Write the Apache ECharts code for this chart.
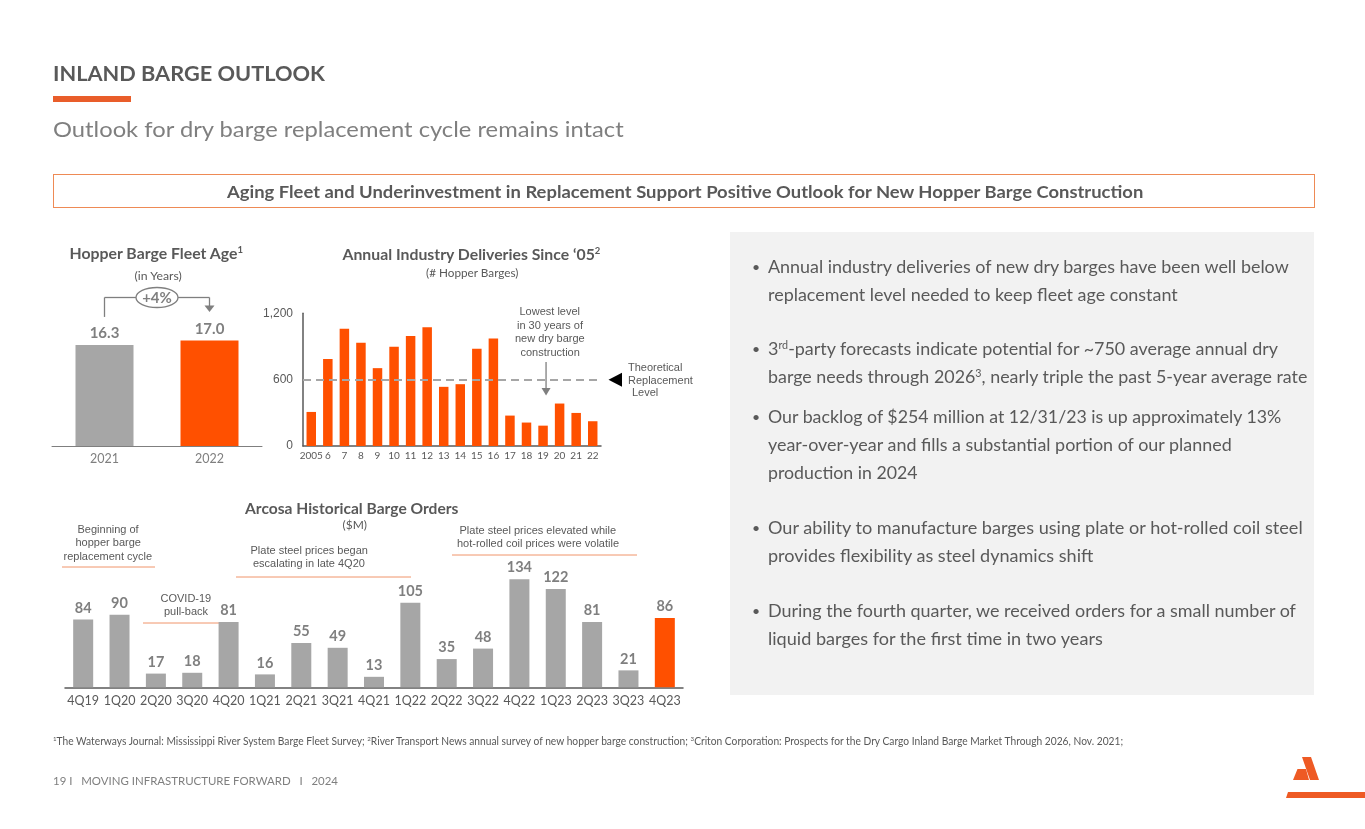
<!DOCTYPE html>
<html><head><meta charset="utf-8">
<script src="https://cdn.jsdelivr.net/npm/echarts@6/dist/echarts.min.js"></script>
<style>
html,body{margin:0;padding:0;background:#fff;}
#page{position:relative;width:1365px;height:829px;overflow:hidden;font-family:Lato,'Open Sans',sans-serif;color:#595959;}
#panel{position:absolute;left:730px;top:232px;width:584px;height:463px;background:#F2F2F2;}
#box{position:absolute;left:53px;top:174px;width:1260px;height:32px;border:1.5px solid #EE8A55;}
#accent{position:absolute;left:53px;top:96px;width:78px;height:6px;background:#E95D2A;}
#chart{position:absolute;left:0;top:0;width:1365px;height:829px;}
.t{position:absolute;white-space:pre;line-height:1;}
.sup{font-size:0.6em;position:relative;top:-0.6em;}
</style></head>
<body>
<div id="page">
  <div id="panel"></div>
  <div id="box"></div>
  <div id="accent"></div>
  <div id="chart"></div>
</div>
<script>
// ---------- data ----------
const fleetYears = ['2021', '2022'];
const fleetAge = [16.3, 17.0];
const fleetChange = '+4%';

const deliveryYears = ['2005','6','7','8','9','10','11','12','13','14','15','16','17','18','19','20','21','22'];
const deliveries = [308, 786, 1061, 934, 704, 898, 994, 1073, 535, 559, 880, 973, 275, 212, 184, 384, 299, 224];
const replacementLevel = 600;
const deliveryTicks = [0, 600, 1200];

const orderQuarters = ['4Q19','1Q20','2Q20','3Q20','4Q20','1Q21','2Q21','3Q21','4Q21','1Q22','2Q22','3Q22','4Q22','1Q23','2Q23','3Q23','4Q23'];
const orders = [84, 90, 17, 18, 81, 16, 55, 49, 13, 105, 35, 48, 134, 122, 81, 21, 86];

// ---------- styles ----------
const ORANGE = '#FF5000', GRAY = '#A6A6A6', LBL = '#595959', VAL = '#7F7F7F', SALMON = '#F0946B';
const FONT = 'Lato';

const chart = echarts.init(document.getElementById('chart'));
chart.setOption({
  animation: false,
  grid: [
    {left: 52, top: 322, width: 210, height: 124},
    {left: 303, top: 313.3, width: 298, height: 132.7},
    {left: 65, top: 558.3, width: 618, height: 129}
  ],
  xAxis: [
    {gridIndex: 0, type: 'category', data: fleetYears,
     axisLine: {lineStyle: {color: '#7F7F7F', width: 1}}, axisTick: {show: false},
     axisLabel: {color: VAL, fontSize: 12.5, fontFamily: FONT, margin: 6}},
    {gridIndex: 1, type: 'category', data: deliveryYears,
     axisLine: {lineStyle: {color: '#595959', width: 1.5}}, axisTick: {show: false},
     axisLabel: {interval: 0, color: LBL, fontSize: 10, fontFamily: FONT, margin: 5}},
    {gridIndex: 2, type: 'category', data: orderQuarters,
     axisLine: {lineStyle: {color: '#595959', width: 1.5}}, axisTick: {show: false},
     axisLabel: {interval: 0, color: LBL, fontSize: 12.5, fontFamily: FONT, margin: 7}}
  ],
  yAxis: [
    {gridIndex: 0, type: 'value', min: 0, max: 20, show: false},
    {gridIndex: 1, type: 'value', min: deliveryTicks[0], max: deliveryTicks[2], interval: deliveryTicks[1] - deliveryTicks[0],
     axisLine: {show: true, lineStyle: {color: '#595959', width: 1.5}}, axisTick: {show: false}, splitLine: {show: false},
     axisLabel: {color: LBL, fontSize: 12, fontFamily: 'Liberation Sans', margin: 10,
                 formatter: v => v.toLocaleString('en-US')}},
    {gridIndex: 2, type: 'value', min: 0, max: 160, show: false}
  ],
  series: [
    {type: 'bar', xAxisIndex: 0, yAxisIndex: 0, barWidth: 58,
     data: fleetAge.map((v, i) => ({value: v, itemStyle: {color: i === fleetAge.length - 1 ? ORANGE : GRAY}})),
     label: {show: true, position: 'top', distance: 4, color: VAL, fontSize: 15, fontWeight: 'bold', fontFamily: FONT,
             formatter: p => p.value.toFixed(1)}},
    {type: 'bar', xAxisIndex: 1, yAxisIndex: 1, barWidth: 9.5, itemStyle: {color: ORANGE},
     data: deliveries,
     markLine: {symbol: 'none', silent: true, label: {show: false},
                lineStyle: {type: [8, 5], color: GRAY, width: 2}, data: [{yAxis: replacementLevel}]}},
    {type: 'bar', xAxisIndex: 2, yAxisIndex: 2, barWidth: 20,
     data: orders.map((v, i) => ({value: v, itemStyle: {color: i === orders.length - 1 ? ORANGE : GRAY}})),
     label: {show: true, position: 'top', distance: 4, color: VAL, fontSize: 14.5, fontWeight: 'bold', fontFamily: FONT}}
  ]
});

// ---------- annotation graphics ----------
const px = (g, pt) => chart.convertToPixel({gridIndex: g}, pt);
const b0 = px(0, [0, fleetAge[0]]), b1 = px(0, [1, fleetAge[1]]);
const by = 297.5, ecx = (b0[0] + b1[0]) / 2;
const stroke = {stroke: VAL, lineWidth: 1.3, fill: null};
const lowX = px(1, [14, 0])[0] + 3;
const repY = px(1, [0, replacementLevel])[1];
const seg = (x1, y1, x2, y2, s) => ({type: 'line', silent: true, shape: {x1, y1, x2, y2}, style: s});
const sal = {stroke: SALMON, lineWidth: 1};
chart.setOption({graphic: [
  seg(b0[0], b0[1] - 28, b0[0], by, stroke),
  seg(b0[0], by, ecx - 21, by, stroke),
  seg(ecx + 21, by, b1[0], by, stroke),
  seg(b1[0], by, b1[0], b1[1] - 34, stroke),
  {type: 'polygon', silent: true, shape: {points: [[b1[0] - 5, b1[1] - 35], [b1[0] + 5, b1[1] - 35], [b1[0], b1[1] - 28.5]]}, style: {fill: VAL}},
  {type: 'ellipse', silent: true, shape: {cx: ecx, cy: by, rx: 21, ry: 10}, style: {stroke: VAL, lineWidth: 1.3, fill: '#fff'}},
  {type: 'text', silent: true, x: ecx, y: by + 0.5, style: {text: fleetChange, x: 0, y: 0, align: 'center', verticalAlign: 'middle',
    fill: VAL, font: 'bold 15px Lato'}},
  // lowest level arrow
  seg(lowX, 362, lowX, 389, {stroke: VAL, lineWidth: 1.3}),
  {type: 'polygon', silent: true, shape: {points: [[lowX - 4.5, 388], [lowX + 4.5, 388], [lowX, 395.5]]}, style: {fill: VAL}},
  // replacement triangle
  {type: 'polygon', silent: true, shape: {points: [[608.5, repY], [622, repY - 7], [622, repY + 7]]}, style: {fill: '#000'}},
  // salmon underlines
  seg(62, 567, 155, 567, sal),
  seg(143, 623, 223, 623, sal),
  seg(236, 577, 411, 577, sal),
  seg(452, 555, 637, 555, sal),
  // logo
  {type: 'polygon', silent: true, shape: {points: [[1302, 757], [1311, 757], [1319, 780], [1310, 780]]}, style: {fill: '#EE5A24'}},
  {type: 'polygon', silent: true, shape: {points: [[1297.5, 769], [1306, 769], [1309, 780], [1293, 780]]}, style: {fill: '#EE5A24'}},
  {type: 'polygon', silent: true, shape: {points: [[1288, 792], [1365, 792], [1365, 798], [1286, 798]]}, style: {fill: '#EE5A24'}}
]});

// ---------- slide text ----------
const texts = [];
function T(html, x, y, o) { texts.push(Object.assign({html, x, y, size: 12, weight: 'normal', color: LBL, family: FONT, align: 'l'}, o)); }
const S = s => '<span class="sup">' + s + '</span>';

T('INLAND BARGE OUTLOOK', 53, 72, {size: 21, weight: 'bold', w: 272});
T('Outlook for dry barge replacement cycle remains intact', 53, 129, {size: 22, color: '#7F7F7F', w: 571});
T('Aging Fleet and Underinvestment in Replacement Support Positive Outlook for New Hopper Barge Construction', 685, 191, {size: 17, weight: 'bold', align: 'c', w: 916});

T('Hopper Barge Fleet Age' + S('1'), 156, 253, {size: 15, weight: 'bold', align: 'c', w: 173});
T('(in Years)', 158, 276, {size: 12, align: 'c', w: 47});
T('Annual Industry Deliveries Since ‘05' + S('2'), 471, 254, {size: 15, weight: 'bold', align: 'c', w: 258});
T('(# Hopper Barges)', 472, 273, {size: 12, align: 'c', w: 92});
T('Arcosa Historical Barge Orders', 351, 508, {size: 15, weight: 'bold', align: 'c', w: 213});
T('($M)', 355, 525, {size: 12, align: 'c', w: 25});

const A = {size: 11, family: 'Liberation Sans', align: 'c'};
['Lowest level', 'in 30 years of', 'new dry barge', 'construction'].forEach((s, i) => T(s, 550, 311.5 + i * 13.6, A));
T('Theoretical', 628, 367, Object.assign({}, A, {align: 'l'}));
T('Replacement', 628, 380, Object.assign({}, A, {align: 'l'}));
T('Level', 632, 392.5, Object.assign({}, A, {align: 'l'}));
['Beginning of', 'hopper barge', 'replacement cycle'].forEach((s, i) => T(s, 108, 529.5 + i * 13.4, A));
['COVID-19', 'pull-back'].forEach((s, i) => T(s, 186, 598.5 + i * 13.4, A));
['Plate steel prices began', 'escalating in late 4Q20'].forEach((s, i) => T(s, 309, 550.5 + i * 13.2, A));
['Plate steel prices elevated while', 'hot-rolled coil prices were volatile'].forEach((s, i) => T(s, 538, 530.5 + i * 13, A));

const bullets = [
  [267, ['Annual industry deliveries of new dry barges have been well below', 521], ['replacement level needed to keep fleet age constant', 410]],
  [349, ['3' + S('rd') + '-party forecasts indicate potential for ~750 average annual dry', 510], ['barge needs through 2026' + S('3') + ', nearly triple the past 5-year average rate', 539]],
  [417, ['Our backlog of $254 million at 12/31/23 is up approximately 13%', 513], ['year-over-year and fills a substantial portion of our planned', 464], ['production in 2024', 150]],
  [528, ['Our ability to manufacture barges using plate or hot-rolled coil steel', 535], ['provides flexibility as steel dynamics shift', 325]],
  [611, ['During the fourth quarter, we received orders for a small number of', 528], ['liquid barges for the first time in two years', 335]]
];
bullets.forEach(b => {
  const y0 = b[0];
  T('•', 752, y0, {size: 14});
  b.slice(1).forEach((ln, i) => T(ln[0], 768, y0 + i * 28, {size: 17.5, w: ln[1]}));
});

T(S('1') + 'The Waterways Journal: Mississippi River System Barge Fleet Survey; ' + S('2') + 'River Transport News annual survey of new hopper barge construction; ' + S('3') + 'Criton Corporation: Prospects for the Dry Cargo Inland Barge Market Through 2026, Nov. 2021;', 53, 741, {size: 10.5, w: 1070});
T('19 I   MOVING INFRASTRUCTURE FORWARD   I   2024', 53, 780, {size: 11, color: '#7F7F7F', w: 285});

const page = document.getElementById('page');
const els = texts.map(t => {
  const d = document.createElement('div');
  d.className = 't';
  d.innerHTML = t.html;
  d.style.fontSize = t.size + 'px';
  d.style.fontWeight = t.weight;
  d.style.color = t.color;
  d.style.fontFamily = "'" + t.family + "', sans-serif";
  page.appendChild(d);
  return [d, t];
});
function layout() {
  els.forEach(([d, t]) => {
    d.style.transform = 'none';
    const w = d.offsetWidth, h = d.offsetHeight;
    const k = t.w ? t.w / w : 1;
    d.style.transformOrigin = t.align === 'c' ? 'center center' : 'left center';
    d.style.left = (t.align === 'c' ? t.x - w / 2 : t.x) + 'px';
    d.style.top = (t.y - h / 2) + 'px';
    d.style.transform = 'scaleX(' + k + ')';
  });
}
layout();
if (document.fonts && document.fonts.ready) document.fonts.ready.then(layout);
</script>
</body></html>
